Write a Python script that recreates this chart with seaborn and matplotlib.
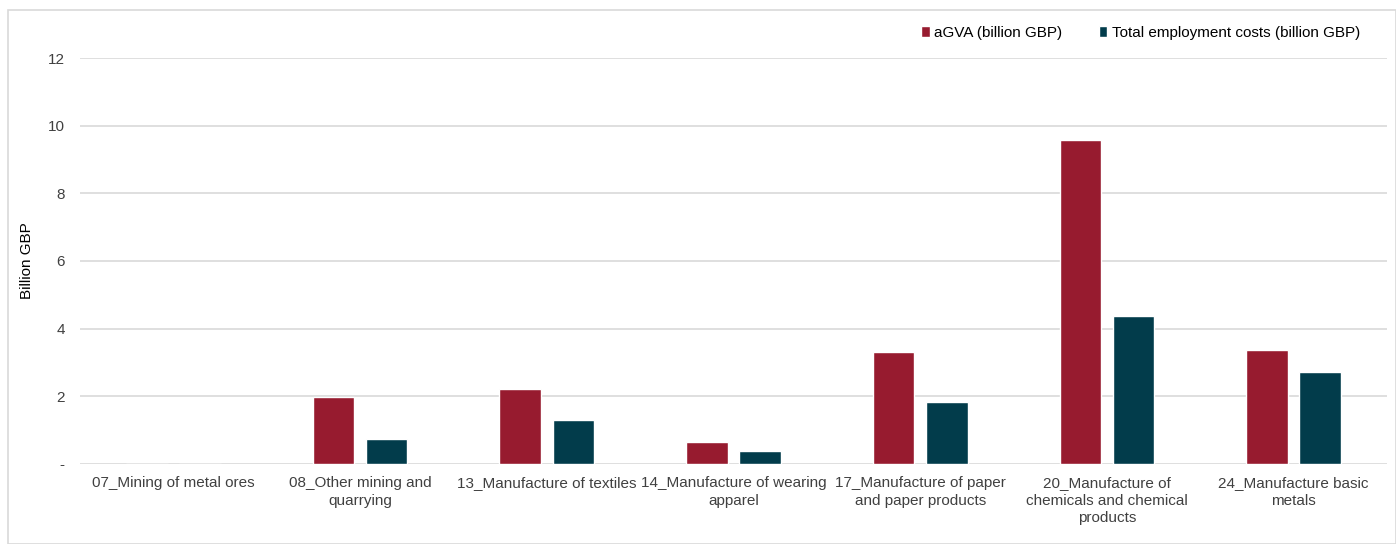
import matplotlib
matplotlib.use("Agg")
import matplotlib.pyplot as plt
import seaborn as sns
import pandas as pd
from matplotlib.patches import Rectangle

sectors = [
    "07_Mining of metal ores",
    "08_Other mining and\nquarrying",
    "13_Manufacture of textiles",
    "14_Manufacture of wearing\napparel",
    "17_Manufacture of paper\nand paper products",
    "20_Manufacture of\nchemicals and chemical\nproducts",
    "24_Manufacture basic\nmetals",
]
agva = [0.0, 1.97, 2.23, 0.65, 3.32, 9.58, 3.36]
employment_costs = [0.0, 0.75, 1.30, 0.38, 1.82, 4.37, 2.72]
series_names = ["aGVA (billion GBP)", "Total employment costs (billion GBP)"]
colors = ["#971B2F", "#023C4B"]
y_ticks = [0, 2, 4, 6, 8, 10, 12]
y_tick_labels = ["-", "2", "4", "6", "8", "10", "12"]

df = pd.DataFrame({
    "sector": sectors * 2,
    "value": agva + employment_costs,
    "series": [series_names[0]] * len(sectors) + [series_names[1]] * len(sectors),
})

sns.set_theme(style="white")
plt.rcParams["font.family"] = ["Liberation Sans", "DejaVu Sans"]

fig = plt.figure(figsize=(13.96, 5.44), dpi=100)
ax = fig.add_axes([80 / 1396, 1 - 464 / 544, (1387 - 80) / 1396, (464 - 58) / 544])

sns.barplot(data=df, x="sector", y="value", hue="series", order=sectors,
            hue_order=series_names, palette=colors, width=0.57, gap=0.22,
            saturation=1, ax=ax, errorbar=None, legend=True)

ax.set_ylim(0, 12)
ax.set_xlim(-0.5, len(sectors) - 0.5)
ax.set_yticks(y_ticks)
ax.set_yticklabels(y_tick_labels)
ax.yaxis.grid(True, color="#D9D9D9", linewidth=1.2)
ax.set_axisbelow(True)
for s in ax.spines.values():
    s.set_visible(False)
ax.tick_params(axis="both", length=0, labelsize=11, colors="#404040")
ax.tick_params(axis="x", pad=9)
ax.tick_params(axis="y", pad=11)
for lbl in ax.get_xticklabels():
    lbl.set_linespacing(1.3)
ax.set_xlabel("")
ax.set_ylabel("Billion GBP", fontsize=11, color="#000000", labelpad=10)

handles, labels = ax.get_legend_handles_labels()
ax.legend(handles, labels, loc="center right", bbox_to_anchor=(0.99, 1.062),
          ncol=2, frameon=False, fontsize=11, handlelength=0.55,
          handleheight=0.75, handletextpad=0.3, columnspacing=2.4,
          labelcolor="#000000")

fig.patches.append(Rectangle((8 / 1396, 0), 1 - 8 / 1396, 1 - 10 / 544,
                             transform=fig.transFigure, fill=False,
                             edgecolor="#D9D9D9", linewidth=1.2))

fig.savefig("out.png", dpi=100)
